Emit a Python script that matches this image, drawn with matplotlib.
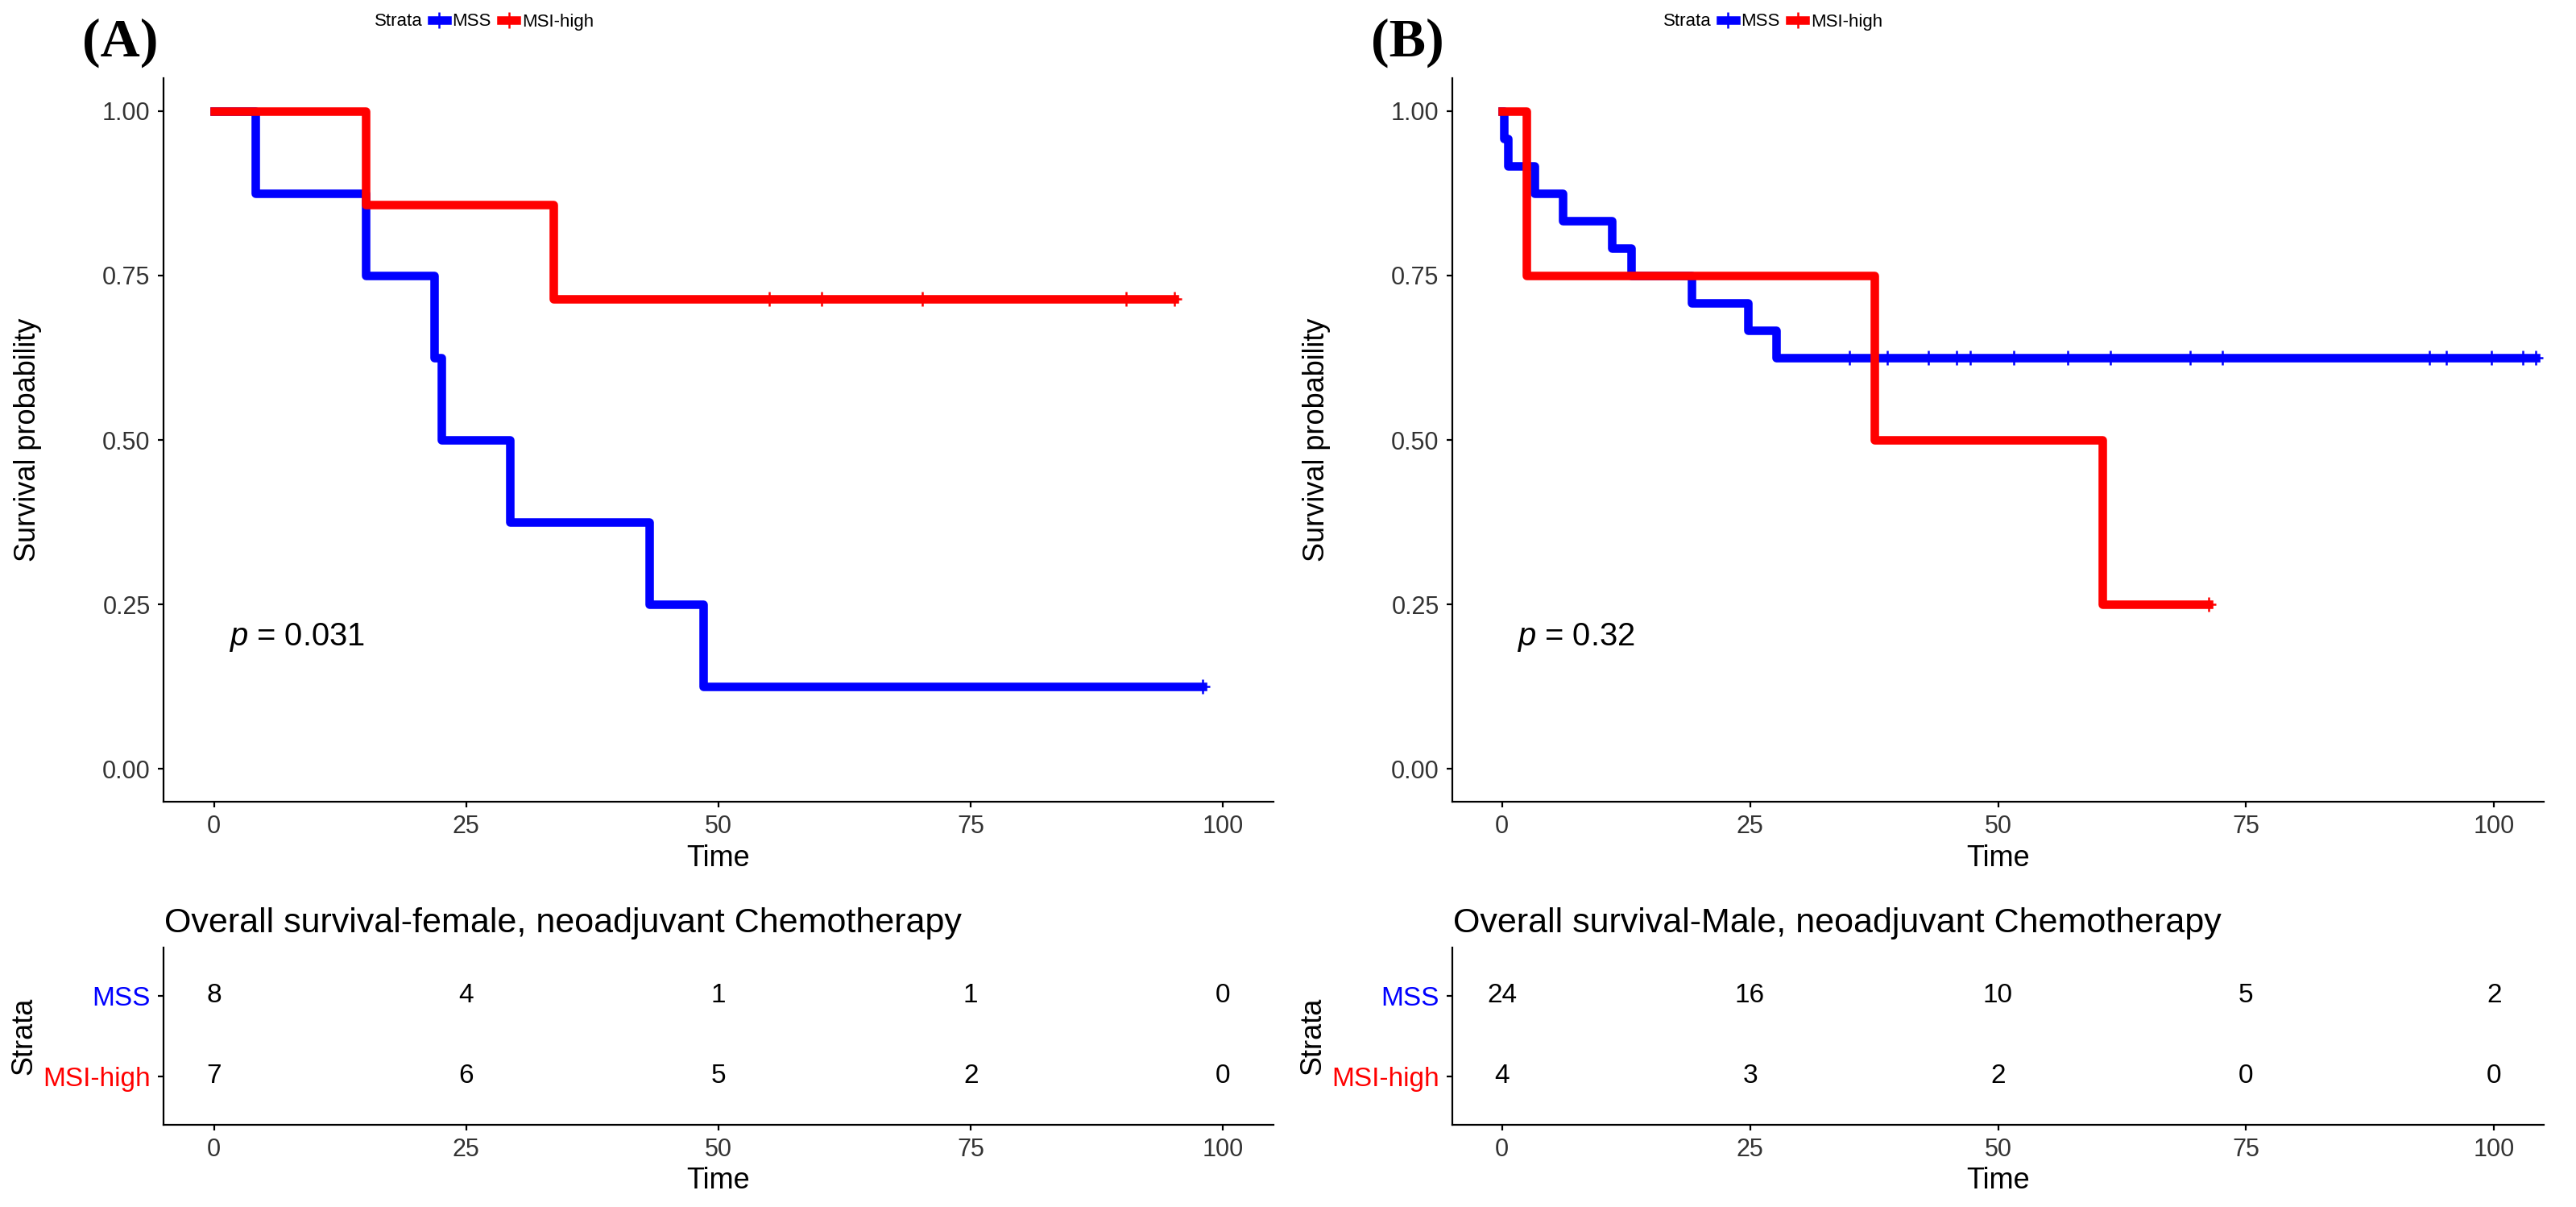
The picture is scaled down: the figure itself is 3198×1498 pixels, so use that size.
import matplotlib
matplotlib.use('Agg')
import matplotlib.pyplot as plt
from matplotlib.lines import Line2D
from matplotlib import font_manager

# Follow-up times (events = steps, censor = "+")
a_mss_events = [4.1, 15.0, 21.8, 22.5, 29.3, 43.1, 48.5]
a_mss_censor = [98.0]
a_msi_events = [15.0, 33.6]
a_msi_censor = [55.0, 60.2, 70.2, 90.4, 95.2]

b_mss_events = [0.2, 0.6, 3.3, 6.1, 11.1, 13.0, 19.1, 24.8, 27.6]
b_mss_censor = [35.0, 38.8, 43.0, 45.8, 47.2, 51.6, 57.0, 61.3, 69.4, 72.6,
                93.5, 95.2, 99.7, 102.9, 104.2]
b_msi_events = [2.5, 37.5, 60.5]
b_msi_censor = [71.2]

# Numbers at risk
risk_times = [0, 25, 50, 75, 100]
a_mss_risk = [8, 4, 1, 1, 0]
a_msi_risk = [7, 6, 5, 2, 0]
b_mss_risk = [24, 16, 10, 5, 2]
b_msi_risk = [4, 3, 2, 0, 0]

strata = ['MSS', 'MSI-high']
colors = ['#0000FF', '#FF0000']
panel_tags = ['(A)', '(B)']
titles = ['Overall survival-female, neoadjuvant Chemotherapy',
          'Overall survival-Male, neoadjuvant Chemotherapy']
p_values = ['0.031', '0.32']
y_ticks = [0.0, 0.25, 0.5, 0.75, 1.0]

names = {f.name for f in font_manager.fontManager.ttflist}
narrow = 'Liberation Sans Narrow' if 'Liberation Sans Narrow' in names else 'Liberation Sans'

plt.rcParams['font.family'] = ['Liberation Sans', 'DejaVu Sans']
plt.rcParams['mathtext.fontset'] = 'custom'
plt.rcParams['mathtext.it'] = 'Liberation Sans:italic'
plt.rcParams['mathtext.rm'] = 'Liberation Sans'

W, H = 3198, 1498
DPI = 200


def km_curve(events, censor):
    """Kaplan-Meier step coordinates plus censor mark positions."""
    times = sorted(set(events) | set(censor))
    n = len(events) + len(censor)
    s = 1.0
    xs, ys = [0.0], [1.0]
    cx, cy = [], []
    for t in times:
        d = events.count(t)
        c = censor.count(t)
        if d:
            s *= 1 - d / n
        xs.append(t)
        ys.append(s)
        if c:
            cx.append(t)
            cy.append(s)
        n -= d + c
    return xs, ys, cx, cy


def style_axis(ax):
    for side in ['top', 'right']:
        ax.spines[side].set_visible(False)
    for side in ['left', 'bottom']:
        ax.spines[side].set_linewidth(0.8)
        ax.spines[side].set_color('black')
    ax.tick_params(length=2.4, width=0.8, color='black', labelcolor='#333333')
    for lab in ax.get_xticklabels() + ax.get_yticklabels():
        lab.set_fontfamily(narrow)
        lab.set_fontsize(11)


fig = plt.figure(figsize=(W / DPI, H / DPI), dpi=DPI)

panels = [
    (203, 1378, [(a_mss_events, a_mss_censor), (a_msi_events, a_msi_censor)],
     [a_mss_risk, a_msi_risk]),
    (1803, 1355, [(b_mss_events, b_mss_censor), (b_msi_events, b_msi_censor)],
     [b_mss_risk, b_msi_risk]),
]

for i, (left_px, width_px, groups, risks) in enumerate(panels):
    left = left_px / W
    width = width_px / W

    # survival curves
    ax = fig.add_axes([left, 1 - 995 / H, width, 898 / H])
    for (ev, ce), col in zip(groups, colors):
        xs, ys, cx, cy = km_curve(ev, ce)
        ax.step(xs, ys, where='post', color=col, lw=3.8)
        ax.plot(cx, cy, ls='none', marker='+', color=col, ms=6.5, mew=0.9)
    ax.set_xlim(-5, 105)
    ax.set_ylim(-0.05, 1.05)
    ax.set_xticks(risk_times)
    ax.set_yticks(y_ticks)
    ax.set_yticklabels(['%.2f' % v for v in y_ticks])
    style_axis(ax)
    ax.set_xlabel('Time', fontsize=13, labelpad=2.5)
    ax.set_ylabel('Survival probability', fontsize=13, labelpad=27)
    ax.text(1.5, 0.2, r'$p$ = ' + p_values[i], fontsize=14.4, va='center', ha='left')

    # legend on top
    fig.text((left_px + 262) / W, 1 - 27 / H, 'Strata', fontsize=8,
             family=narrow, va='center', ha='left')
    handles = [Line2D([], [], color=c, lw=3.8, marker='+', ms=7, mew=0.9) for c in colors]
    fig.legend(handles, strata, loc='center left',
               bbox_to_anchor=((left_px + 333) / W, 1 - 27 / H),
               ncol=2, frameon=False, prop={'family': narrow, 'size': 8},
               handlelength=0.85, handletextpad=0.3, columnspacing=0.55,
               borderpad=0, borderaxespad=0)

    # panel tag
    fig.text((left_px - 101) / W, 1 - 53 / H, panel_tags[i], fontsize=24.5,
             family='Liberation Serif', weight='bold', va='center', ha='left')

    # risk table title
    fig.text((left_px + 1) / W, 1 - 1146 / H, titles[i], fontsize=15.5,
             va='center', ha='left')

    # risk table
    tab = fig.add_axes([left, 1 - 1396 / H, width, 220 / H])
    for row, (vals, col) in enumerate(zip(risks, colors)):
        yrow = 2 - row
        for t, v in zip(risk_times, vals):
            tab.text(t, yrow, str(v), fontsize=12, ha='center', va='center')
    tab.set_xlim(-5, 105)
    tab.set_ylim(0.4, 2.6)
    tab.set_xticks(risk_times)
    tab.set_yticks([2, 1])
    tab.set_yticklabels(strata)
    style_axis(tab)
    for lab, col in zip(tab.get_yticklabels(), colors):
        lab.set_color(col)
        lab.set_fontfamily('Liberation Sans')
        lab.set_fontsize(12)
    tab.set_xlabel('Time', fontsize=13, labelpad=2)
    tab.set_ylabel('Strata', fontsize=13, labelpad=2)

fig.savefig('out.png', dpi=DPI)
